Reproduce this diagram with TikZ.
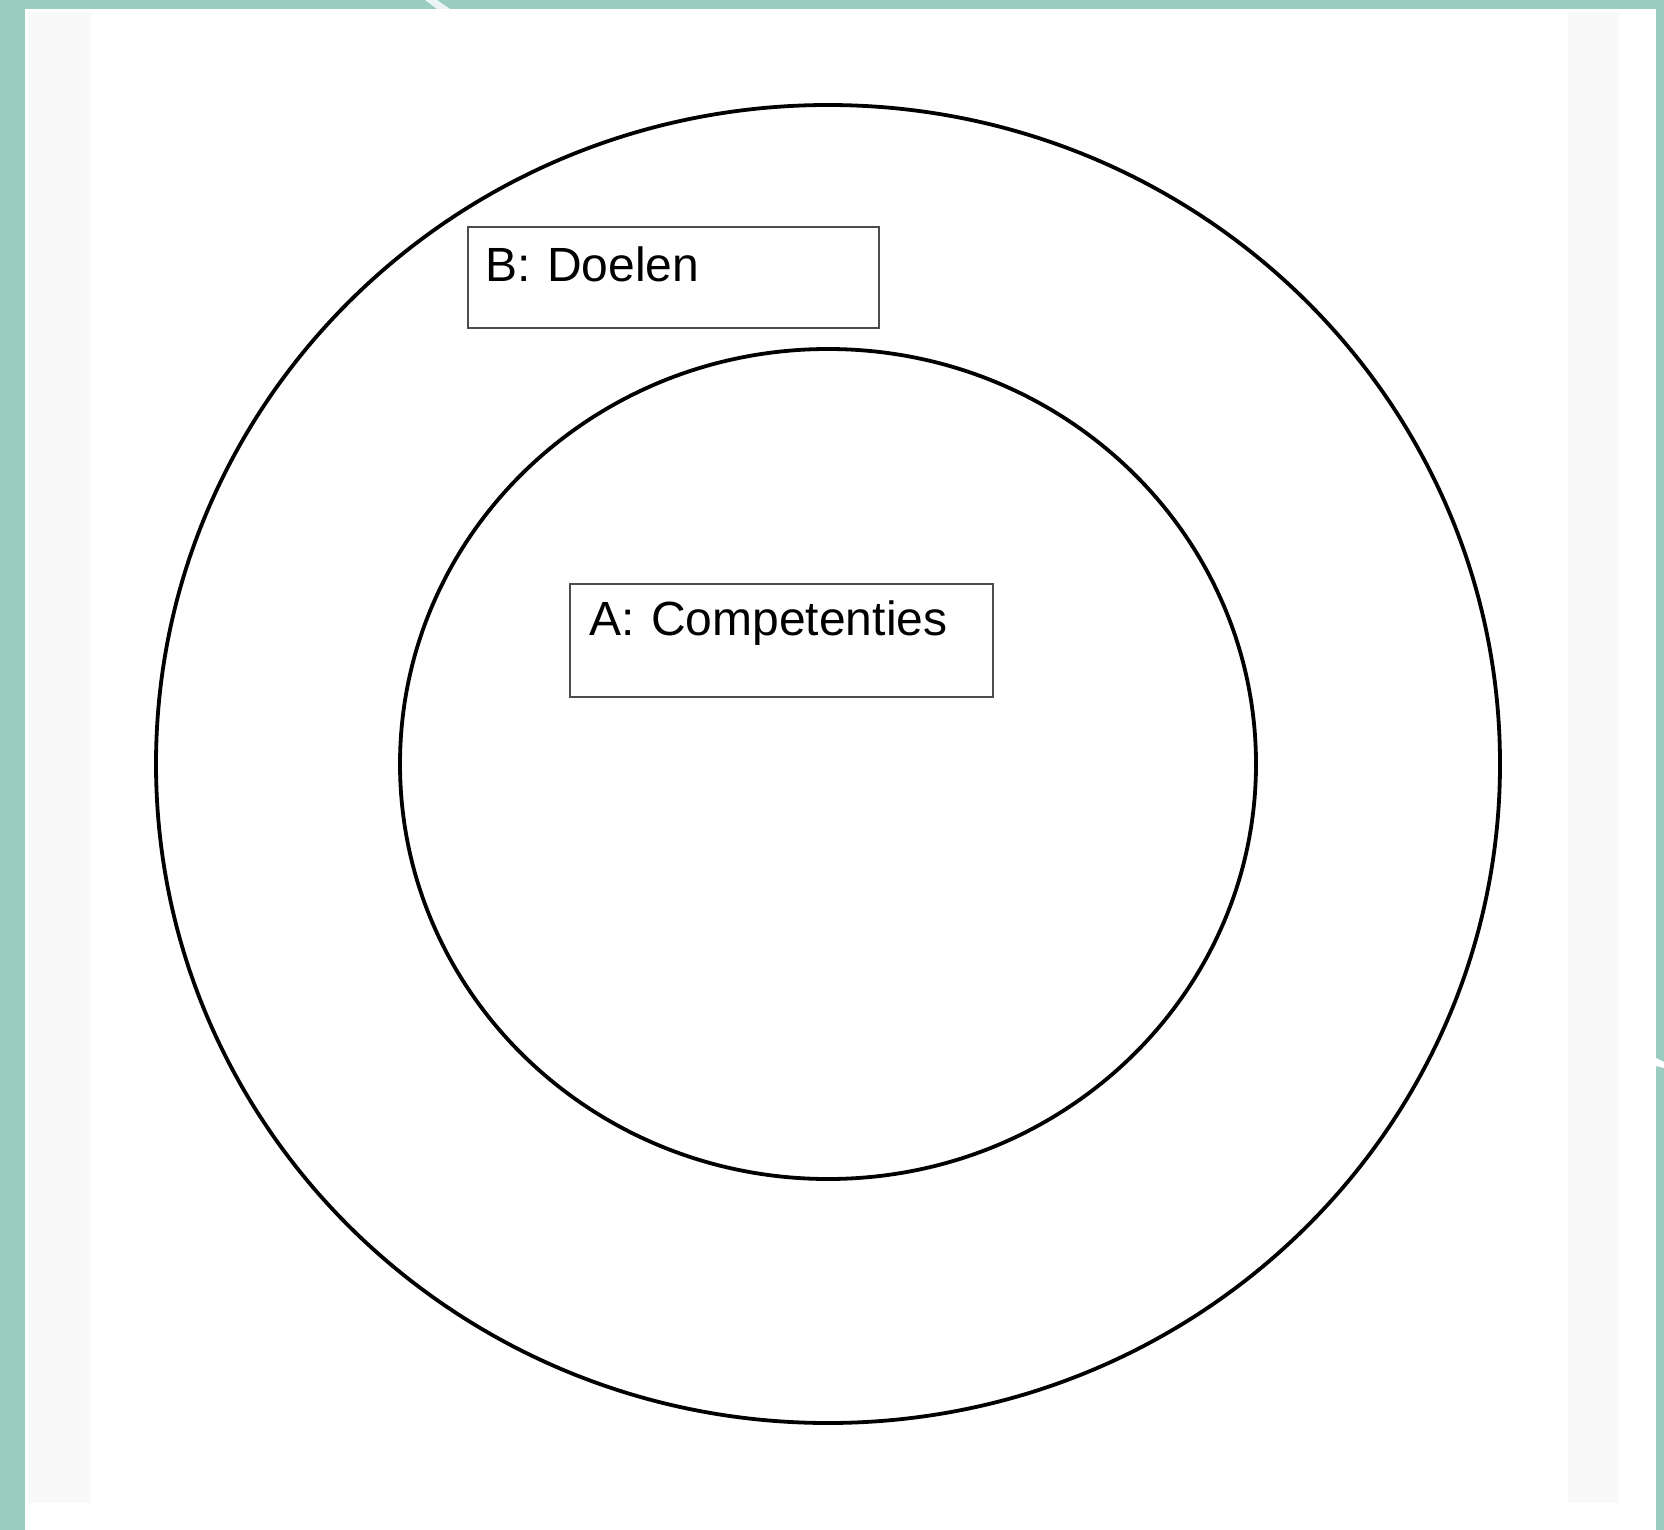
\documentclass[tikz,border=0pt]{standalone}
\usepackage{fontspec}
\setmainfont{Liberation Sans}
\usetikzlibrary{positioning}

\definecolor{frameteal}{RGB}{154,204,192}
\definecolor{stripgray}{RGB}{249,249,249}

\begin{document}
\begin{tikzpicture}[x=0.5pt,y=-0.5pt,
  ring/.style={line width=1.9pt},
  labelbox/.style={draw=black!70,line width=0.9pt,anchor=north west,align=left,
    inner xsep=9pt,inner ysep=0pt,font=\fontsize{24pt}{28pt}\selectfont}]

\useasboundingbox (0,0) rectangle (1664,1530);

% page frame
\fill[frameteal] (0,0) rectangle (1664,1530);
\fill[white] (25,9) rectangle (1656,1530);
\fill[white!80!frameteal] (425,0) -- (437,0) -- (450,9) -- (437,9) -- cycle;
\fill[white] (1656,1058) -- (1664,1062) -- (1664,1068) -- (1656,1066) -- cycle;
\fill[stripgray] (28,12) rectangle (91,1503);
\fill[stripgray] (1568,12) rectangle (1619,1503);

% rings
\draw[ring] (828,764) ellipse [x radius=336pt, y radius=329.5pt];
\draw[ring] (828,764) ellipse [x radius=214pt, y radius=207.5pt];

\node[labelbox,text width=187.5pt,text height=27.5pt,text depth=23pt]
  (doelen) at (467,226) {B: Doelen};
\node[labelbox,inner xsep=10pt,text width=191.5pt,text height=26pt,text depth=30.5pt]
  (competenties) at (569,583) {A: Competenties};

\end{tikzpicture}
\end{document}
